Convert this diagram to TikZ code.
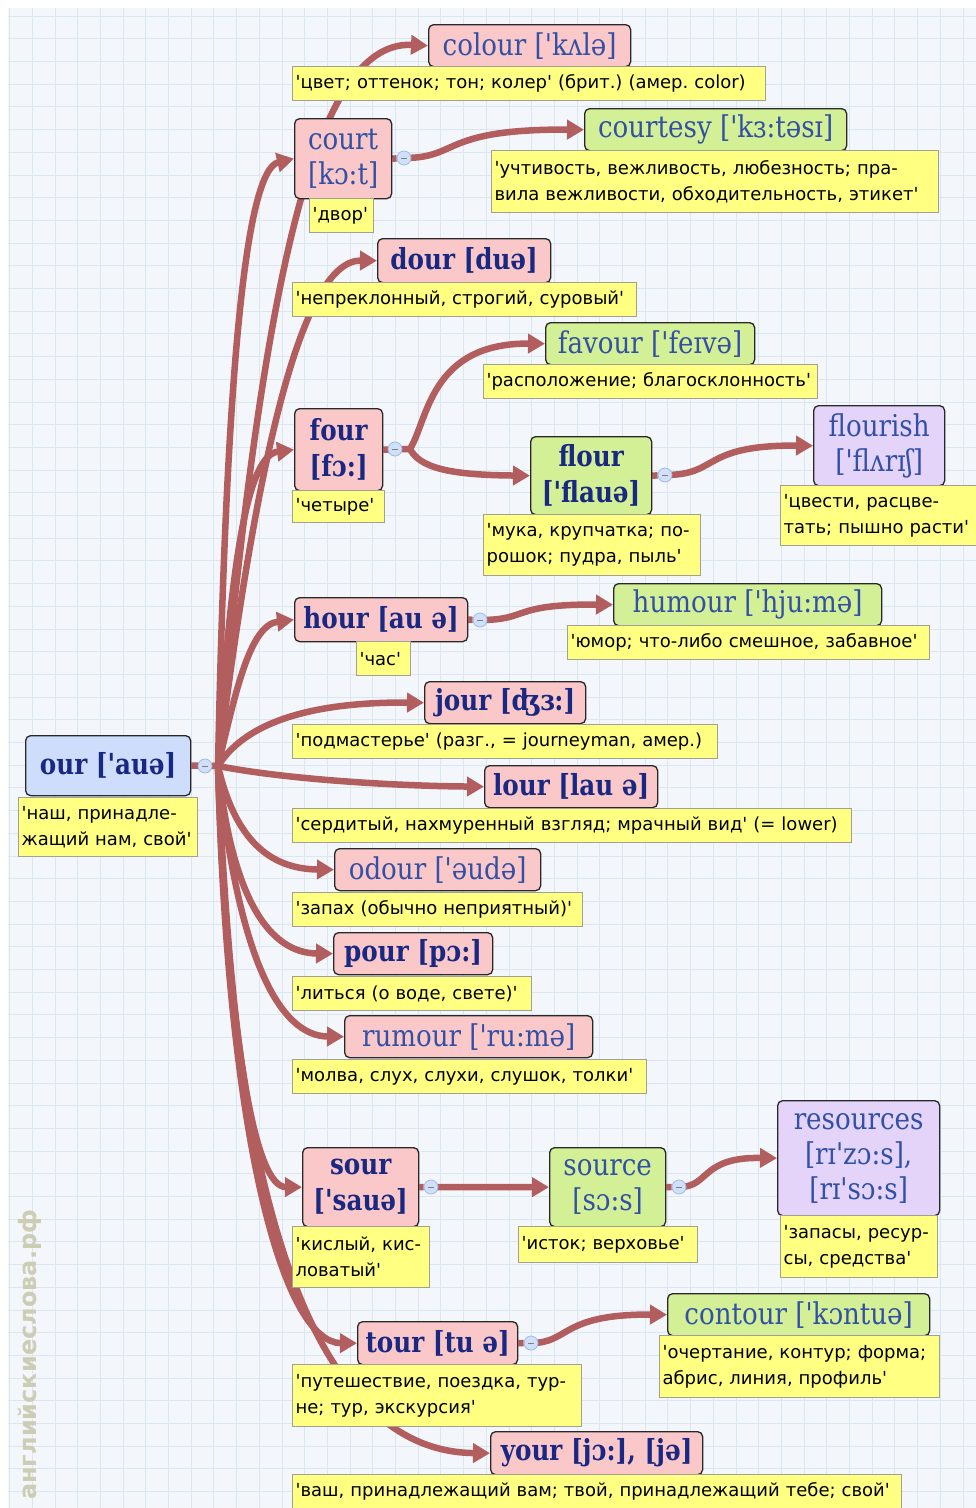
\documentclass[tikz,border=0pt]{standalone}
\usepackage{fontspec}
\usetikzlibrary{arrows.meta}
\newfontfamily\wordfont[Ligatures=TeXOff,FakeStretch=0.87]{DejaVu Serif}
\newfontfamily\bwordfont[Ligatures=TeXOff,FakeStretch=0.85]{DejaVu Serif}
\newfontfamily\deffont[Ligatures=TeXOff]{DejaVu Sans}
\newfontfamily\wmfont{DejaVu Sans}
\frenchspacing
\pgfdeclarelayer{back}
\pgfdeclarelayer{links}
\pgfsetlayers{back,links,main}
\definecolor{pinkF}{RGB}{250,200,200}
\definecolor{greenF}{RGB}{212,240,150}
\definecolor{purpleF}{RGB}{228,212,250}
\definecolor{blueF}{RGB}{205,221,251}
\definecolor{defF}{RGB}{255,255,130}
\definecolor{defB}{RGB}{160,160,150}
\definecolor{linkC}{RGB}{178,94,94}
\definecolor{regC}{RGB}{50,80,165}
\definecolor{boldC}{RGB}{25,40,130}
\definecolor{bgF}{RGB}{243,247,251}
\definecolor{gridC}{RGB}{218,231,241}
\definecolor{ccF}{RGB}{208,224,248}
\definecolor{ccB}{RGB}{160,185,230}
\definecolor{wmC}{RGB}{205,205,180}
\definecolor{boxB}{RGB}{40,40,40}
\begin{document}
\begin{tikzpicture}[x=1pt,y=-1pt,
  wbox/.style={draw=boxB, line width=1.3pt, rounded corners=5pt, anchor=north west, inner sep=0pt, align=center},
  pk/.style={wbox, fill=pinkF},
  gr/.style={wbox, fill=greenF},
  pu/.style={wbox, fill=purpleF},
  bl/.style={wbox, fill=blueF},
  rw/.style={font=\wordfont\fontsize{30}{35}\selectfont, text=regC},
  bw/.style={font=\bwordfont\bfseries\fontsize{29}{36}\selectfont, text=boldC},
  sz/.style 2 args={minimum width=#1pt, minimum height=#2pt},
  defn/.style={draw=defB, fill=defF, line width=1.2pt, anchor=north west, inner xsep=3pt, inner ysep=0pt, align=left, font=\deffont\frenchspacing\fontsize{18}{26}\selectfont, text=black},
  ds/.style 2 args={text width=#1pt, minimum height=#2pt},
  link/.style={draw=linkC, line width=6.5pt},
  conn/.style={link, -{Triangle[length=17pt,width=19pt]}},
  cc/.style={circle, minimum size=14pt, inner sep=0pt, fill=ccF, draw=ccB, line width=0.8pt,
    path picture={\draw[gray, line width=0.7pt] ([xshift=-3pt]path picture bounding box.center) -- ([xshift=3pt]path picture bounding box.center);}}
]
\useasboundingbox (0,0) rectangle (976,1508);
\begin{pgfonlayer}{back}
  \fill[white] (0,0) rectangle (976,1508);
  \fill[bgF] (8,8) rectangle (976,1508);
  \foreach \i in {0,...,42} {\draw[gridC, line width=0.8pt] (9.5+22.7*\i,8) -- (9.5+22.7*\i,1508);}
  \foreach \j in {0,...,65} {\draw[gridC, line width=0.8pt] (8,16+22.7*\j) -- (976,16+22.7*\j);}
  \node[rotate=90, anchor=west, text=wmC, font=\wmfont\bfseries\fontsize{24}{24}\selectfont, inner sep=0pt] (wm) at (30,1500) {английскиеслова.рф};
\end{pgfonlayer}

% ---- word boxes ----
\node[bl, bw, sz={165}{60}] (our) at (25,735) {our ['auə]};
\node[pk, rw, sz={202}{42}] (colour) at (428,24) {colour ['kʌlə]};
\node[pk, rw, sz={97}{80}] (court) at (294,118) {court\\{}[kɔ:t]};
\node[gr, rw, sz={262}{42}] (courtesy) at (584,108) {courtesy ['kɜ:təsɪ]};
\node[pk, bw, sz={173}{44}] (dour) at (377,238) {dour [duə]};
\node[gr, rw, sz={209}{42}] (favour) at (545,322) {favour ['feɪvə]};
\node[pk, bw, sz={88}{82}] (four) at (294,408) {four\\{}[fɔ:]};
\node[gr, bw, sz={121}{78}] (flour) at (530,436) {flour\\{}['flauə]};
\node[pu, rw, sz={131}{80}] (flourish) at (813,405) {flourish\\{}['flʌrɪʃ]};
\node[pk, bw, sz={173}{44}] (hour) at (294,597) {hour [au ə]};
\node[gr, rw, sz={268}{42}] (humour) at (613,583) {humour ['hju:mə]};
\node[pk, bw, sz={161}{42}] (jour) at (424,681) {jour [ʤɜ:]};
\node[pk, bw, sz={173}{42}] (lour) at (484,765) {lour [lau ə]};
\node[pk, rw, sz={206}{42}] (odour) at (334,848) {odour ['əudə]};
\node[pk, bw, sz={159}{42}] (pour) at (333,932) {pour [pɔ:]};
\node[pk, rw, sz={248}{42}] (rumour) at (344,1015) {rumour ['ru:mə]};
\node[pk, bw, sz={116}{79}] (sour) at (302,1147) {sour\\{}['sauə]};
\node[gr, rw, sz={116}{79}] (source) at (549,1147) {source\\{}[sɔ:s]};
\node[pu, rw, sz={162}{115}] (resources) at (777,1100) {resources\\{}[rɪ'zɔ:s],\\{}[rɪ'sɔ:s]};
\node[pk, bw, sz={160}{43}] (tour) at (357,1321) {tour [tu ə]};
\node[gr, rw, sz={262}{42}] (contour) at (667,1293) {contour ['kɔntuə]};
\node[pk, bw, sz={212}{43}] (your) at (490,1431) {your [jɔ:], [jə]};

% ---- definitions ----
\node[defn, ds={173}{59}] (d-our) at (18,797) {'наш, принадле-\\жащий нам, свой'};
\node[defn, ds={467}{34}] (d-colour) at (292,66) {'цвет; оттенок; тон; колер' (брит.) (амер. color)};
\node[defn, ds={58}{34}] (d-court) at (309,198) {'двор'};
\node[defn, ds={441}{62}] (d-courtesy) at (491,150) {'учтивость, вежливость, любезность; пра-\\вила вежливости, обходительность, этикет'};
\node[defn, ds={338}{34}] (d-dour) at (292,282) {'непреклонный, строгий, суровый'};
\node[defn, ds={328}{34}] (d-favour) at (483,364) {'расположение; благосклонность'};
\node[defn, ds={86}{32}] (d-four) at (292,490) {'четыре'};
\node[defn, ds={211}{61}] (d-flour) at (483,514) {'мука, крупчатка; по-\\рошок; пудра, пыль'};
\node[defn, ds={190}{60}] (d-flourish) at (780,485) {'цвести, расцве-\\тать; пышно расти'};
\node[defn, ds={48}{34}] (d-hour) at (356,641) {'час'};
\node[defn, ds={356}{34}] (d-humour) at (567,625) {'юмор; что-либо смешное, забавное'};
\node[defn, ds={419}{34}] (d-jour) at (292,724) {'подмастерье' (разг., = journeyman, амер.)};
\node[defn, ds={553}{34}] (d-lour) at (292,808) {'сердитый, нахмуренный взгляд; мрачный вид' (= lower)};
\node[defn, ds={284}{34}] (d-odour) at (292,892) {'запах (обычно неприятный)'};
\node[defn, ds={233}{34}] (d-pour) at (292,976) {'литься (о воде, свете)'};
\node[defn, ds={348}{34}] (d-rumour) at (292,1059) {'молва, слух, слухи, слушок, толки'};
\node[defn, ds={131}{61}] (d-sour) at (292,1226) {'кислый, кис-\\ловатый'};
\node[defn, ds={173}{36}] (d-source) at (518,1226) {'исток; верховье'};
\node[defn, ds={151}{62}] (d-resources) at (780,1215) {'запасы, ресур-\\сы, средства'};
\node[defn, ds={283}{62}] (d-tour) at (292,1364) {'путешествие, поездка, тур-\\не; тур, экскурсия'};
\node[defn, ds={274}{62}] (d-contour) at (659,1335) {'очертание, контур; форма;\\абрис, линия, профиль'};
\node[defn, ds={603}{34}] (d-your) at (292,1474) {'ваш, принадлежащий вам; твой, принадлежащий тебе; свой'};

% ---- collapse circles ----
\node[cc] (c-our) at (205,766) {};
\node[cc] (c-court) at (404,158) {};
\node[cc] (c-four) at (395,449) {};
\node[cc] (c-flour) at (665,475) {};
\node[cc] (c-hour) at (480,620) {};
\node[cc] (c-sour) at (431,1187) {};
\node[cc] (c-source) at (679,1187) {};
\node[cc] (c-tour) at (531,1343) {};
\coordinate (h) at (218,766);
\coordinate (j4) at (410,449);

% ---- connectors ----
\begin{pgfonlayer}{links}
  \draw[link] (our.east) -- (h);
  \draw[conn] (h) .. controls (262,290) and (312,40) .. (colour.west);
  \draw[conn] (h) .. controls (226,380) and (245,170) .. (court.west);
  \draw[conn] (h) .. controls (255,470) and (300,260) .. (dour.west);
  \draw[conn] (h) .. controls (232,540) and (250,455) .. (four.west);
  \draw[conn] (h) .. controls (236,690) and (250,625) .. (hour.west);
  \draw[conn] (h) .. controls (250,715) and (330,702) .. (jour.west);
  \draw[conn] (h) .. controls (290,780) and (400,786) .. (lour.west);
  \draw[conn] (h) .. controls (235,840) and (270,869) .. (odour.west);
  \draw[conn] (h) .. controls (232,900) and (270,953) .. (pour.west);
  \draw[conn] (h) .. controls (238,960) and (280,1036) .. (rumour.west);
  \draw[conn] (h) .. controls (230,1050) and (255,1187) .. (sour.west);
  \draw[conn] (h) .. controls (228,1150) and (285,1343) .. (tour.west);
  \draw[conn] (h) .. controls (232,1250) and (330,1452) .. (your.west);
  \draw[link] (court.east) -- (c-court);
  \draw[conn] (c-court.center) .. controls (460,158) and (440,129) .. (courtesy.west);
  \draw[link] (four.east) -- (j4);
  \draw[conn] (j4) .. controls (428,420) and (430,343) .. (favour.west);
  \draw[conn] (j4) .. controls (420,468) and (450,475) .. (flour.west);
  \draw[link] (flour.east) -- (c-flour);
  \draw[conn] (c-flour.center) .. controls (720,475) and (700,445) .. (flourish.west);
  \draw[link] (hour.east) -- (c-hour);
  \draw[conn] (c-hour.center) .. controls (530,620) and (510,604) .. (humour.west);
  \draw[link] (sour.east) -- (c-sour);
  \draw[conn] (c-sour.center) -- (source.west);
  \draw[link] (source.east) -- (c-source);
  \draw[conn] (c-source.center) .. controls (710,1187) and (700,1157) .. (resources.west);
  \draw[link] (tour.east) -- (c-tour);
  \draw[conn] (c-tour.center) .. controls (570,1343) and (560,1314) .. (contour.west);
\end{pgfonlayer}
\end{tikzpicture}
\end{document}
